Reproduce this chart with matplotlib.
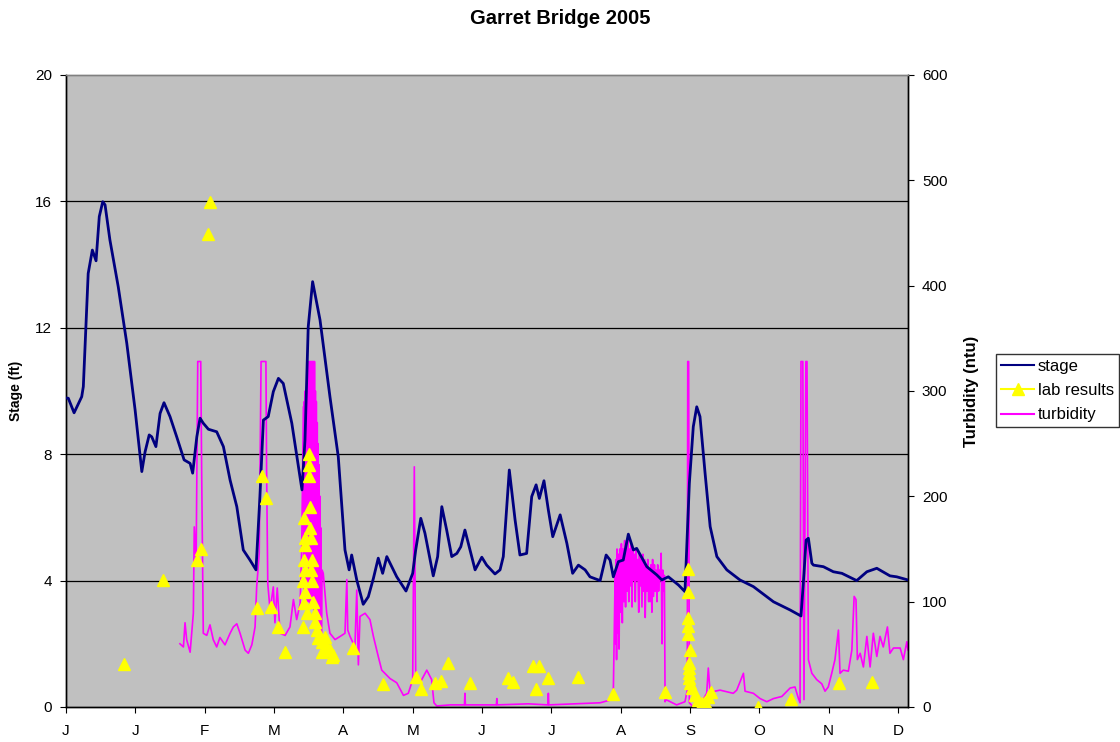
import matplotlib
matplotlib.use("Agg")
import matplotlib.pyplot as plt
from matplotlib.lines import Line2D

plt.rcParams['font.family'] = ['Liberation Sans', 'DejaVu Sans']

# x axis: day of record (0 .. ~364), ticks every 30 days
month_ticks = [0, 30, 60, 90, 120, 150, 180, 210, 240, 270, 300, 330, 360]
month_labels = ["J", "J", "F", "M", "A", "M", "J", "J", "A", "S", "O", "N", "D"]
stage_ticks = [0, 4, 8, 12, 16, 20]
turb_ticks = [0, 100, 200, 300, 400, 500, 600]

# stage (ft)
stage_day = [0, 1.0, 3.5, 6.8, 7.5, 9.6, 11.4, 13.0, 14.4, 15.9, 16.9, 19.0, 22.6, 26.3, 29.9,
             32.8, 34.2, 36.0, 37.1, 38.9, 40.7, 42.4, 45.0, 47.9, 51.1, 52.8, 53.7, 54.8, 56.6,
             58.0, 59.4, 61.6, 65.2, 68.1, 71.0, 73.9, 76.7, 79.6, 82.2, 83.9, 85.4, 87.5, 89.7,
             91.9, 94.0, 97.7, 101.2, 102.1, 103.4, 104.8, 106.7, 109.9, 114.2, 117.8, 120.7,
             122.5, 123.6, 125.8, 128.6, 130.8, 133.0, 135.1, 137.0, 138.8, 143.1, 147.1, 150.0,
             151.3, 153.5, 155.3, 158.9, 160.8, 162.6, 164.7, 166.9, 169.1, 170.8, 172.6, 177.0,
             179.9, 182.0, 185.6, 187.8, 189.2, 191.8, 194.3, 196.4, 199.3, 201.5, 203.4, 204.8,
             206.8, 208.7, 210.6, 213.8, 216.7, 219.2, 221.7, 224.6, 226.7, 231.1, 233.7, 235.4,
             236.8, 239.0, 241.1, 243.3, 245.5, 246.9, 251.3, 255.6, 257.8, 260.6, 265.0, 267.8,
             269.7, 271.4, 272.9, 274.3, 276.5, 278.7, 281.6, 285.9, 291.6, 297.4, 306.1, 313.3,
             318.0, 319.3, 320.2, 321.2, 322.7, 323.4, 327.7, 332.0, 335.7, 342.1, 346.5, 350.8,
             356.5, 359.4, 364.3]
stage_ft = [9.78, 9.77, 9.31, 9.82, 10.14, 13.72, 14.46, 14.12, 15.52, 15.99, 15.89, 14.78, 13.30,
            11.51, 9.40, 7.45, 8.07, 8.61, 8.55, 8.24, 9.29, 9.63, 9.19, 8.55, 7.82, 7.75, 7.71,
            7.40, 8.55, 9.14, 8.98, 8.79, 8.71, 8.24, 7.18, 6.34, 4.97, 4.65, 4.34, 6.66, 9.08,
            9.19, 9.98, 10.40, 10.24, 8.98, 7.29, 6.87, 8.45, 12.03, 13.46, 12.25, 9.82, 7.92,
            4.97, 4.34, 4.81, 4.02, 3.25, 3.49, 4.07, 4.71, 4.23, 4.76, 4.12, 3.67, 4.23, 4.97,
            5.97, 5.50, 4.15, 4.76, 6.34, 5.60, 4.76, 4.86, 5.07, 5.60, 4.34, 4.74, 4.49, 4.21,
            4.34, 4.76, 7.50, 5.92, 4.81, 4.86, 6.66, 7.03, 6.60, 7.16, 6.23, 5.39, 6.08, 5.18,
            4.23, 4.49, 4.34, 4.12, 4.00, 4.81, 4.65, 4.12, 4.60, 4.65, 5.47, 4.97, 5.02, 4.44,
            4.18, 4.02, 4.12, 3.86, 3.65, 7.08, 8.87, 9.50, 9.19, 7.40, 5.71, 4.76, 4.34, 4.02,
            3.81, 3.33, 3.07, 2.88, 4.23, 5.28, 5.34, 4.55, 4.49, 4.44, 4.28, 4.23, 4.00, 4.28,
            4.39, 4.15, 4.12, 4.02]

# lab results (ntu)
lab_day = [25.1, 41.8, 56.8, 58.3, 61.6, 62.3, 82.5, 84.6, 86.4, 88.6, 91.9, 94.7,
           105.0, 105.3, 105.3, 105.6, 103.0, 105.6, 103.4, 106.0, 103.4, 103.1, 106.3, 103.4,
           106.0, 102.7, 106.4, 103.4, 103.1, 106.7, 104.1, 107.7, 102.4, 107.7, 108.5, 109.2,
           110.6, 112.1, 112.8, 110.6, 114.2, 115.7, 115.0, 124.3, 137.3, 151.4, 153.5, 159.7,
           162.1, 165.2, 174.8, 191.1, 193.3, 202.1, 204.7, 203.2, 208.6, 221.5, 236.5, 259.2,
           269.3, 269.3, 269.3, 269.3, 269.3, 270.0, 269.6, 269.6, 269.7, 269.7, 270.0, 270.7,
           272.2, 273.5, 275.1, 276.5, 277.8, 279.0, 299.4, 313.6, 334.5, 348.6]
lab_ntu = [40.8, 120.6, 139.6, 149.7, 448.8, 479.7, 94.0, 219.3, 198.1, 95.2, 75.5, 52.5,
           239.9, 229.8, 219.6, 189.6, 179.2, 170.2, 160.2, 160.2, 153.8, 139.6, 139.6, 130.1,
           130.1, 119.9, 119.9, 109.5, 98.5, 100.0, 89.0, 89.0, 76.2, 81.0, 73.1, 65.2,
           62.0, 66.7, 57.2, 52.5, 54.1, 49.4, 47.8, 56.3, 21.6, 28.8, 16.8, 22.5,
           25.0, 42.1, 23.1, 27.5, 23.7, 38.9, 38.9, 17.1, 27.5, 28.5, 11.9, 14.5,
           131.0, 109.5, 84.6, 76.9, 69.3, 54.1, 41.8, 37.0, 32.3, 27.5, 22.8, 18.0,
           11.4, 6.6, 3.8, 4.7, 9.5, 14.2, 0.3, 7.6, 22.8, 24.0]

# turbidity probe (ntu), sensor tops out near 328
turb_day = [49.3, 50.8, 51.5, 52.2, 53.7, 55.1, 55.5, 56.3, 57.0, 58.3, 58.7, 59.4, 60.9, 62.3,
            63.7, 65.2, 66.6, 68.8, 71.0, 72.4, 73.9, 75.3, 77.5, 78.9, 80.4, 81.8, 82.5, 83.6,
            84.4, 86.5, 86.8, 87.3, 88.3, 89.7, 90.4, 91.4, 92.6, 94.8, 96.9, 98.4, 99.8, 101.3,
            102.0,
            102.7, 102.9, 103.1, 103.3, 103.5, 103.7, 103.9, 104.1, 104.3, 104.5, 104.7, 104.9,
            105.1, 105.3, 105.5, 105.7, 105.9, 106.1, 106.3, 106.5, 106.7, 106.9, 107.1, 107.3,
            107.5, 107.7, 107.9, 108.1, 108.3, 108.5, 108.7, 108.9, 109.1, 109.3, 109.5, 109.7,
            109.9, 110.1, 110.3, 110.5, 110.8,
            111.3, 112.8, 114.2, 116.4, 118.6, 120.7, 121.5, 121.9, 122.9, 125.0, 125.8, 126.2,
            126.5, 127.2, 129.4, 131.5, 133.0, 135.1, 136.6, 140.2, 143.1, 146.0, 148.1, 150.0,
            150.7, 151.3, 153.2, 156.1, 158.2, 159.2, 160.4, 166.2, 172.4, 172.6, 172.8, 186.2,
            186.4, 186.6, 200.0, 208.5, 208.7, 208.9, 220.0, 231.1, 236.1, 236.8, 237.6,
            237.8, 238.0, 238.2, 238.4, 238.7, 239.0, 239.3, 239.6, 240.0, 240.3, 240.7, 241.0,
            241.4, 241.7, 242.1, 242.4, 242.8, 243.1, 243.5, 243.8, 244.2, 244.5, 244.9, 245.2,
            245.6, 246.0, 246.3, 246.7, 247.0, 247.4, 247.8, 248.1, 248.5, 248.8, 249.2, 249.6,
            249.9, 250.3, 250.6, 251.0, 251.4, 251.7, 252.1, 252.4, 252.7, 253.1, 253.5, 253.8,
            254.2, 254.6, 254.9, 255.3, 255.7, 256.0, 256.4, 256.8, 257.1, 257.5, 257.9, 258.2,
            258.6, 258.9, 259.2,
            259.6, 264.2, 267.8, 268.8, 269.0, 269.4, 269.7, 271.4, 274.3, 277.2, 277.9, 278.7,
            280.8, 283.0, 288.7, 290.2, 293.1, 293.8, 297.4, 300.3, 303.2, 306.1, 309.7, 313.3,
            315.4, 316.9, 317.6, 318.0, 318.8, 319.3, 320.1, 320.6, 321.2, 322.7, 324.8, 327.0,
            328.4, 329.8, 331.3, 332.7, 334.2, 334.9, 336.3, 338.5, 340.0, 341.0, 341.8, 342.4,
            343.6, 345.0, 346.5, 347.9, 349.3, 350.8, 352.2, 353.6, 355.4, 356.5, 358.0, 360.9,
            362.3, 363.8, 364.3]
turb_ntu = [60, 57, 80, 64, 52, 89, 171, 137, 328, 328, 222, 70, 68, 78,
            64, 57, 66, 59, 70, 76, 79, 70, 54, 51, 59, 76, 114, 146,
            328, 328, 222, 117, 92, 114, 80, 113, 70, 68, 76, 102, 83, 98,
            152,
            285, 100, 290, 95, 300, 110, 295, 100, 310, 120, 328, 100,
            328, 130, 328, 95, 328, 120, 328, 105, 328, 110, 328, 90,
            328, 100, 300, 85, 290, 80, 270, 80, 250, 75, 230, 80,
            200, 75, 170, 70, 130,
            127, 89, 70, 64, 67, 70, 121, 73, 67, 57, 111, 71,
            40, 86, 89, 83, 67, 48, 35, 27, 23, 11, 13, 26,
            228, 32, 23, 35, 26, 4, 1, 2, 2, 13, 2, 2,
            8, 2, 3, 2, 13, 2, 3, 4, 7, 13, 127,
            60, 140, 45, 150, 70, 145, 55, 150, 90, 155, 80, 150,
            100, 158, 95, 150, 110, 160, 100, 150, 115, 155, 95, 150,
            120, 145, 100, 150, 120, 140, 90, 145, 115, 140, 95, 145,
            110, 140, 85, 135, 110, 140, 100, 130, 100, 135, 90, 140,
            105, 135, 110, 130, 100, 135, 110, 130, 120, 146, 60, 130,
            110, 125, 5,
            7, 2, 5, 16, 328, 328, 4, 0, 2, 13, 37, 13,
            15, 16, 13, 16, 32, 15, 13, 8, 5, 8, 10, 18,
            19, 8, 4, 328, 328, 7, 328, 328, 45, 32, 26, 22,
            15, 19, 32, 45, 73, 32, 35, 34, 54, 105, 102, 45,
            51, 38, 67, 38, 70, 48, 67, 57, 76, 51, 56, 56,
            45, 62, 54]

fig = plt.figure(figsize=(11.2, 7.42), dpi=100)
fig.patch.set_facecolor("white")

# turbidity on the bottom axes so the stage line sits above it
ax = fig.add_axes([66 / 1120, 1 - 707 / 742, 842 / 1120, 632 / 742])
ax.set_facecolor("#C0C0C0")
ax.set_xlim(0, 364.3)
ax.set_ylim(0, 600)
for t in stage_ticks[1:-1]:
    ax.axhline(t * 600 / 20, color="black", lw=0.9, zorder=0.5)
ax.plot(turb_day, turb_ntu, color="#FF00FF", lw=1.2, zorder=2)
ax.set_xticks(month_ticks)
ax.set_xticklabels(month_labels)

ax2 = ax.twinx()
ax2.set_ylim(0, 20)
ax2.plot(stage_day, stage_ft, color="#000080", lw=2, zorder=3)

ax3 = ax.twinx()
ax3.set_ylim(0, 600)
ax3.plot(lab_day, lab_ntu, linestyle="none", marker="^", markersize=8,
         color="#FFFF00", markeredgecolor="#FFFF00")
ax3.axis("off")

# swap sides: stage scale on the left, turbidity on the right
ax.yaxis.tick_right()
ax.yaxis.set_label_position("right")
ax.set_yticks(turb_ticks)
ax.set_ylabel("Turbidity (ntu)", fontsize=12, fontweight="bold", labelpad=12)
ax2.yaxis.tick_left()
ax2.yaxis.set_label_position("left")
ax2.set_yticks(stage_ticks)
ax2.set_ylabel("Stage (ft)", fontsize=10, fontweight="bold", labelpad=9)

for a in (ax, ax2):
    a.tick_params(direction="out", length=4, labelsize=11, colors="black")
    for s in a.spines.values():
        s.set_color("black")
        s.set_linewidth(1)
    a.spines["top"].set_color("#808080")
ax.tick_params(axis="x", pad=8)
ax.tick_params(axis="y", pad=6)
ax2.tick_params(axis="y", pad=6)

fig.suptitle("Garret Bridge 2005", x=0.5, y=1 - 9 / 742, va="top",
             fontsize=14.5, fontweight="bold")

handles = [Line2D([], [], color="#000080", lw=1.5),
           Line2D([], [], color="#FFFF00", lw=1.5, marker="^", markersize=8),
           Line2D([], [], color="#FF00FF", lw=1.5)]
leg = fig.legend(handles, ["stage", "lab results", "turbidity"], loc="upper left",
                 bbox_to_anchor=(996 / 1120, 1 - 354 / 742), fontsize=12, frameon=True,
                 fancybox=False, edgecolor="black", handlelength=2.0, handletextpad=0.2,
                 borderpad=0.3, labelspacing=0.55, borderaxespad=0)
leg.get_frame().set_linewidth(1)

fig.savefig("out.png", dpi=100)
